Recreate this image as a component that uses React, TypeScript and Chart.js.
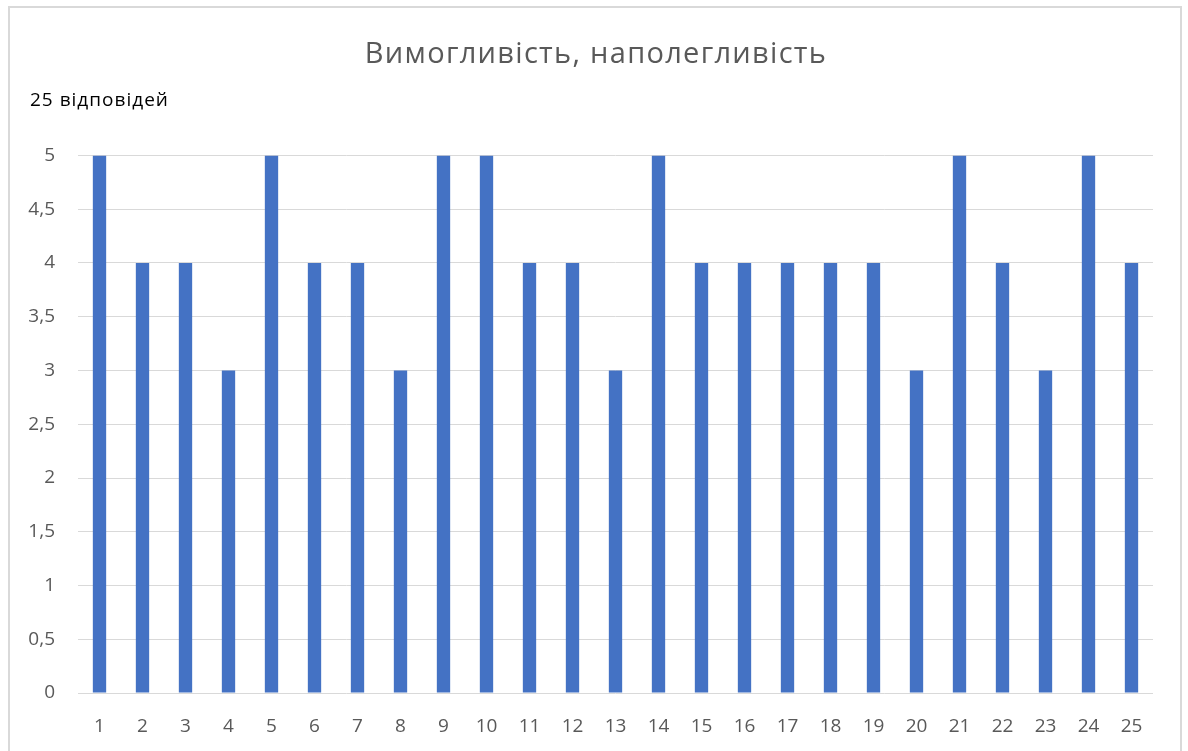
import React, { useEffect, useRef } from "react";
import { Chart, registerables } from "chart.js";

Chart.register(...registerables);

const categories = ["1","2","3","4","5","6","7","8","9","10","11","12","13","14","15","16","17","18","19","20","21","22","23","24","25"];
const values = [5,4,4,3,5,4,4,3,5,5,4,4,3,5,4,4,4,4,4,3,5,4,3,5,4];
const titleText = "Вимогливість, наполегливість";
const subtitleText = "25 відповідей";
const FONT = "'Open Sans', 'Noto Sans', sans-serif";

const headerPlugin = {
  id: "headerText",
  afterDraw(chart: any) {
    const ctx = chart.ctx;
    ctx.save();
    // main title
    ctx.font = `29px ${FONT}`;
    ctx.fillStyle = "#595959";
    ctx.textAlign = "center";
    ctx.textBaseline = "alphabetic";
    (ctx as any).letterSpacing = "1.3px";
    ctx.fillText(titleText, 586, 55);
    // subtitle
    ctx.font = `19px ${FONT}`;
    ctx.fillStyle = "#000000";
    ctx.textAlign = "left";
    (ctx as any).letterSpacing = "1px";
    ctx.fillText(subtitleText, 20, 98);
    ctx.restore();
  },
};

export default function App() {
  const ref = useRef<HTMLCanvasElement>(null);
  useEffect(() => {
    if (!ref.current) return;
    const chart = new Chart(ref.current, {
      type: "bar",
      data: {
        labels: categories,
        datasets: [
          {
            data: values,
            backgroundColor: "#4472C4",
            borderWidth: 0,
            barPercentage: 0.31,
            categoryPercentage: 1,
          },
        ],
      },
      options: {
        responsive: false,
        animation: false,
        layout: { padding: { left: 0, right: 27, top: 147.5, bottom: 0 } },
        plugins: {
          legend: { display: false },
          tooltip: { enabled: false },
          title: { display: false },
        },
        scales: {
          x: {
            grid: { display: false },
            border: { display: false },
            ticks: {
              color: "#595959",
              font: { family: FONT, size: 19 },
              padding: 14,
              maxRotation: 0,
            },
            afterFit(scale: any) {
              scale.height = 58;
            },
          },
          y: {
            min: 0,
            max: 5,
            border: { display: false },
            grid: { color: "#d9d9d9", lineWidth: 1, drawTicks: false },
            ticks: {
              stepSize: 0.5,
              color: "#595959",
              font: { family: FONT, size: 19 },
              padding: 23,
              callback: (v: any) => String(v).replace(".", ","),
            },
            afterFit(scale: any) {
              scale.width = 68;
            },
          },
        },
      },
      plugins: [headerPlugin],
    });
    return () => chart.destroy();
  }, []);
  return (
    <div
      style={{
        position: "absolute",
        left: 8,
        top: 6,
        width: 1170,
        height: 743,
        borderTop: "2px solid #d9d9d9",
        borderLeft: "2px solid #d9d9d9",
        borderRight: "2px solid #d9d9d9",
        background: "#ffffff",
      }}
    >
      <canvas ref={ref} width={1170} height={743} style={{ display: "block" }} />
    </div>
  );
}
